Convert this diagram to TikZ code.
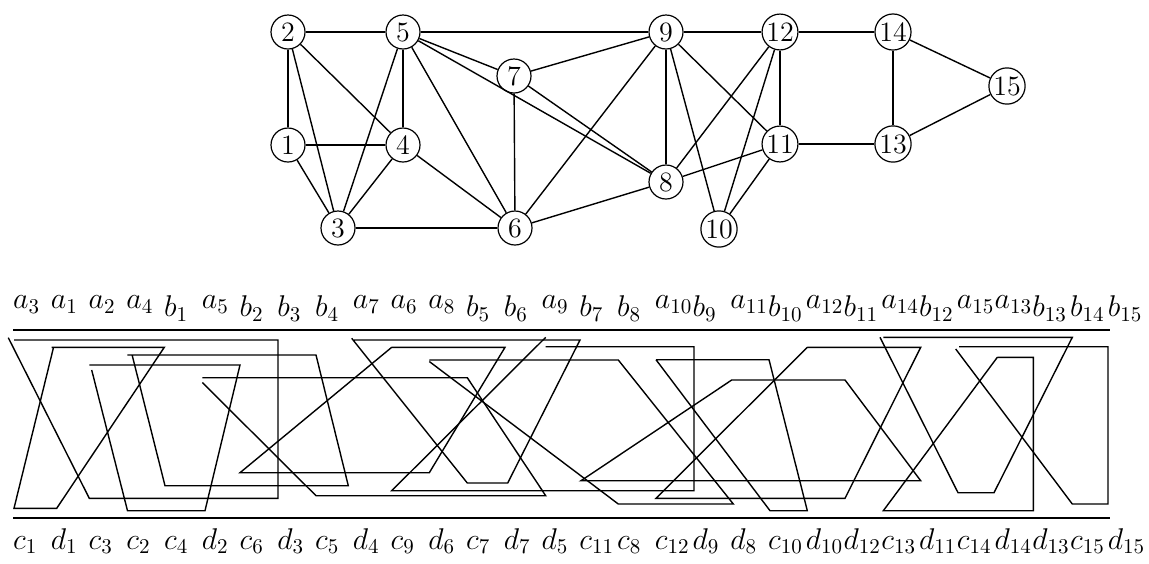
\documentclass[tikz,border=0pt]{standalone}
\usepackage{fix-cm}
\usepackage{tikz}

\tikzset{
  vtx/.style={draw, circle, line width=0.6pt, minimum size=17pt, inner sep=0.5pt, font=\fontsize{14}{16}\selectfont},
  glink/.style={line width=0.7pt},
  trap/.style={line width=0.7pt},
  rail/.style={line width=0.8pt},
  toplbl/.style={anchor=north west, inner sep=0pt, font=\fontsize{15}{18}\selectfont},
  botlbl/.style={anchor=base west, inner sep=0pt, font=\fontsize{15}{18}\selectfont}
}

\begin{document}
\begin{tikzpicture}[x=0.5pt,y=-0.5pt]
\useasboundingbox (0,0) rectangle (1149,563);

% the graph
\node[vtx] (1) at (288,145) {1};
\node[vtx] (2) at (288,32) {2};
\node[vtx] (3) at (338,228) {3};
\node[vtx] (4) at (403,145) {4};
\node[vtx] (5) at (403,32) {5};
\node[vtx] (6) at (515,228) {6};
\node[vtx] (7) at (514,76) {7};
\node[vtx] (8) at (666,182) {8};
\node[vtx] (9) at (666,32) {9};
\node[vtx] (10) at (719,229) {10};
\node[vtx] (11) at (780,144) {11};
\node[vtx] (12) at (780,32) {12};
\node[vtx] (13) at (893,144) {13};
\node[vtx] (14) at (893,32) {14};
\node[vtx] (15) at (1007,86) {15};

\foreach \u/\v in {1/2,1/4,1/3,2/5,2/3,2/4,3/4,3/5,3/6,4/5,4/6,5/7,5/6,5/8,5/9,
  6/7,6/9,6/8,7/9,7/8,8/9,8/12,8/11,9/12,9/10,9/11,10/12,10/11,11/12,11/13,
  12/14,13/14,13/15,14/15}
  \draw[glink] (\u) -- (\v);

% top and bottom lines of the band
\draw[rail] (13,330) -- (1110,330);
\draw[rail] (13,518) -- (1110,518);

% labels
\foreach \t [count=\i from 0] in {a_3,a_1,a_2,a_4,b_1,a_5,b_2,b_3,b_4,a_7,a_6,a_8,b_5,b_6,a_9,
  b_7,b_8,a_{10},b_9,a_{11},b_{10},a_{12},b_{11},a_{14},b_{12},a_{15},a_{13},b_{13},b_{14},b_{15}}
  \node[toplbl] (top\i) at ({12.8+37.75*\i},295.5) {$\t$};
\foreach \t [count=\i from 0] in {c_1,d_1,c_3,c_2,c_4,d_2,c_6,d_3,c_5,d_4,c_9,d_6,c_7,d_7,d_5,
  c_{11},c_8,c_{12},d_9,d_8,c_{10},d_{10},d_{12},c_{13},d_{11},c_{14},d_{14},d_{13},c_{15},d_{15}}
  \node[botlbl] (bot\i) at ({12.8+37.75*\i},549) {$\t$};

% trapezoids: side start, bottom left/right, bottom y, top right/left, top y
\foreach \sx/\sy/\bl/\br/\yb/\tr/\tl/\yt in {
  53.3/348.3/14/56.7/508.3/164.3/51.7/347.3,
  91.7/370/127.5/205/510.7/240/89.3/365,
  8.3/337.7/89.3/278/498.3/278/14/340,
  132.3/355.7/165/348.3/485.7/316/127.3/355,
  202.3/382.5/316/545.7/495.7/467.3/202.3/377.7,
  391.7/347.3/240/429.3/472.7/505/391.7/347.3,
  351.7/338.3/467.3/507.7/483/580/354/340,
  429.3/361.5/618.3/733.3/504/618.3/429.3/360,
  545.7/337.3/391.7/694/490.7/694/545.7/346.7,
  656/359.7/770/807.3/510.7/769/656/359.7,
  731.7/380/581/920.7/480.7/845/731.7/380,
  807.3/347.3/656/845/498.3/920.7/807.3/347.3,
  997.3/357.3/883.3/1033.3/510.7/1033.3/997.3/357.3,
  880/337.3/958/994/492.7/1072.3/883.3/337.3,
  955.7/349/1072.3/1108/504/1108/959/346.7}
  \draw[trap] (\sx,\sy) -- (\bl,\yb) -- (\br,\yb) -- (\tr,\yt) -- (\tl,\yt);
\end{tikzpicture}
\end{document}
